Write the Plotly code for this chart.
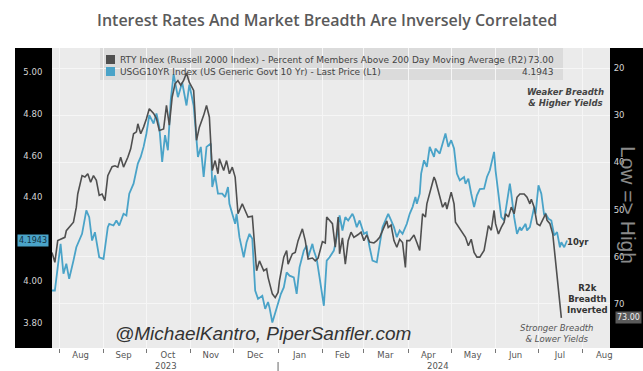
import plotly.graph_objects as go

# ---------------- data ----------------
yld_dates = [
    "2023-07-27", "2023-07-29",
    "2023-08-02", "2023-08-04", "2023-08-06", "2023-08-08", "2023-08-11", "2023-08-13", "2023-08-17", "2023-08-20", "2023-08-22", "2023-08-24", "2023-08-26", "2023-08-29",
    "2023-09-01", "2023-09-04", "2023-09-05", "2023-09-08", "2023-09-10", "2023-09-12", "2023-09-15", "2023-09-17", "2023-09-19", "2023-09-22", "2023-09-24", "2023-09-25", "2023-09-27", "2023-09-29",
    "2023-10-01", "2023-10-03", "2023-10-06", "2023-10-08", "2023-10-10", "2023-10-12", "2023-10-14", "2023-10-16", "2023-10-18", "2023-10-20", "2023-10-23", "2023-10-26", "2023-10-29", "2023-10-31",
    "2023-11-03", "2023-11-05", "2023-11-06", "2023-11-08", "2023-11-10", "2023-11-12", "2023-11-15", "2023-11-16", "2023-11-18", "2023-11-20", "2023-11-23", "2023-11-25", "2023-11-27", "2023-11-28",
    "2023-12-01", "2023-12-02", "2023-12-03", "2023-12-05", "2023-12-08", "2023-12-10", "2023-12-12", "2023-12-14", "2023-12-16", "2023-12-18", "2023-12-21", "2023-12-23", "2023-12-25", "2023-12-26", "2023-12-28", "2023-12-31",
    "2024-01-01", "2024-01-03", "2024-01-05", "2024-01-07", "2024-01-09", "2024-01-12", "2024-01-14", "2024-01-16", "2024-01-19", "2024-01-21", "2024-01-22", "2024-01-25", "2024-01-26", "2024-01-28", "2024-01-30",
    "2024-02-02", "2024-02-04", "2024-02-06", "2024-02-09", "2024-02-11", "2024-02-13", "2024-02-15", "2024-02-17", "2024-02-19", "2024-02-22", "2024-02-23", "2024-02-25", "2024-02-27",
    "2024-03-01", "2024-03-03", "2024-03-05", "2024-03-07", "2024-03-10", "2024-03-12", "2024-03-14", "2024-03-17", "2024-03-18", "2024-03-20", "2024-03-22", "2024-03-24", "2024-03-26", "2024-03-28", "2024-03-31",
    "2024-04-02", "2024-04-04", "2024-04-06", "2024-04-07", "2024-04-09", "2024-04-10", "2024-04-12", "2024-04-14", "2024-04-16", "2024-04-17", "2024-04-19", "2024-04-20", "2024-04-23", "2024-04-25", "2024-04-27", "2024-04-29",
    "2024-05-01", "2024-05-03", "2024-05-05", "2024-05-07", "2024-05-10", "2024-05-11", "2024-05-13", "2024-05-15", "2024-05-17", "2024-05-19", "2024-05-21", "2024-05-24", "2024-05-26", "2024-05-28", "2024-05-31",
    "2024-06-01", "2024-06-03", "2024-06-05", "2024-06-07", "2024-06-09", "2024-06-11", "2024-06-12", "2024-06-14", "2024-06-16", "2024-06-18", "2024-06-19", "2024-06-22", "2024-06-23", "2024-06-25", "2024-06-28", "2024-06-29",
    "2024-07-01", "2024-07-03", "2024-07-05", "2024-07-06", "2024-07-08", "2024-07-10", "2024-07-12", "2024-07-14", "2024-07-16", "2024-07-17", "2024-07-19", "2024-07-21",
]
yld_vals = [
    3.955, 3.955,
    4.178, 4.035, 4.083, 4.011, 4.098, 4.162, 4.226, 4.338, 4.306, 4.194, 4.234, 4.114,
    4.106, 4.258, 4.274, 4.266, 4.290, 4.266, 4.322, 4.314, 4.418, 4.466, 4.530, 4.562, 4.594, 4.642,
    4.706, 4.794, 4.754, 4.802, 4.738, 4.570, 4.698, 4.626, 4.866, 4.990, 4.880, 4.950, 4.840, 4.940,
    4.840, 4.700, 4.594, 4.642, 4.498, 4.642, 4.658, 4.450, 4.506, 4.418, 4.418, 4.402, 4.450, 4.370,
    4.306, 4.274, 4.322, 4.210, 4.114, 4.186, 4.226, 4.202, 3.955, 3.915, 3.930, 3.867, 3.900, 3.874, 3.802, 3.867,
    3.900, 3.939, 3.970, 4.042, 4.026, 4.018, 3.939, 4.066, 4.146, 4.170, 4.114, 4.178, 4.146, 4.106, 4.018,
    3.882, 4.098, 4.114, 4.146, 4.210, 4.314, 4.242, 4.306, 4.290, 4.322, 4.306, 4.258, 4.290,
    4.226, 4.234, 4.162, 4.098, 4.090, 4.170, 4.258, 4.306, 4.322, 4.290, 4.258, 4.210, 4.242, 4.226, 4.274,
    4.322, 4.354, 4.402, 4.370, 4.418, 4.514, 4.578, 4.546, 4.642, 4.626, 4.594, 4.634, 4.610, 4.658, 4.706, 4.642,
    4.674, 4.634, 4.514, 4.482, 4.498, 4.466, 4.490, 4.418, 4.354, 4.410, 4.440, 4.442, 4.498, 4.530, 4.618,
    4.530, 4.418, 4.306, 4.290, 4.386, 4.466, 4.418, 4.306, 4.226, 4.258, 4.242, 4.274, 4.242, 4.258, 4.354, 4.322,
    4.458, 4.418, 4.314, 4.322, 4.298, 4.290, 4.218, 4.234, 4.162, 4.186, 4.162, 4.1943,
]

rty_dates = [
    "2023-07-27", "2023-07-29", "2023-07-31",
    "2023-08-03", "2023-08-05", "2023-08-06", "2023-08-08", "2023-08-11", "2023-08-13", "2023-08-14", "2023-08-17", "2023-08-19", "2023-08-21", "2023-08-23", "2023-08-25", "2023-08-27", "2023-08-29", "2023-08-31",
    "2023-09-02", "2023-09-04", "2023-09-07", "2023-09-09", "2023-09-11", "2023-09-13", "2023-09-15", "2023-09-18", "2023-09-20", "2023-09-22", "2023-09-24", "2023-09-25", "2023-09-27", "2023-09-29",
    "2023-10-01", "2023-10-03", "2023-10-06", "2023-10-08", "2023-10-10", "2023-10-13", "2023-10-15", "2023-10-17", "2023-10-19", "2023-10-21", "2023-10-23", "2023-10-25", "2023-10-27", "2023-10-29", "2023-10-31",
    "2023-11-03", "2023-11-05", "2023-11-07", "2023-11-10", "2023-11-12", "2023-11-14", "2023-11-16", "2023-11-18", "2023-11-20", "2023-11-21", "2023-11-24", "2023-11-26", "2023-11-28", "2023-11-30",
    "2023-12-02", "2023-12-04", "2023-12-07", "2023-12-09", "2023-12-11", "2023-12-14", "2023-12-16", "2023-12-17", "2023-12-19", "2023-12-22", "2023-12-24", "2023-12-25", "2023-12-28", "2023-12-30",
    "2024-01-01", "2024-01-02", "2024-01-05", "2024-01-07", "2024-01-08", "2024-01-11", "2024-01-13", "2024-01-15", "2024-01-18", "2024-01-20", "2024-01-22", "2024-01-25", "2024-01-27", "2024-01-29",
    "2024-02-01", "2024-02-03", "2024-02-04", "2024-02-06", "2024-02-08", "2024-02-10", "2024-02-12", "2024-02-13", "2024-02-15", "2024-02-17", "2024-02-19", "2024-02-21", "2024-02-23", "2024-02-26", "2024-02-28",
    "2024-03-01", "2024-03-03", "2024-03-05", "2024-03-08", "2024-03-10", "2024-03-12", "2024-03-15", "2024-03-17", "2024-03-18", "2024-03-20", "2024-03-22", "2024-03-24", "2024-03-26", "2024-03-28", "2024-03-30", "2024-03-31",
    "2024-04-02", "2024-04-05", "2024-04-07", "2024-04-09", "2024-04-11", "2024-04-13", "2024-04-14", "2024-04-16", "2024-04-19", "2024-04-20", "2024-04-23", "2024-04-25", "2024-04-27", "2024-04-28",
    "2024-05-01", "2024-05-03", "2024-05-04", "2024-05-07", "2024-05-09", "2024-05-11", "2024-05-13", "2024-05-15", "2024-05-17", "2024-05-19", "2024-05-21", "2024-05-24", "2024-05-26", "2024-05-27", "2024-05-29", "2024-05-31",
    "2024-06-01", "2024-06-03", "2024-06-05", "2024-06-07", "2024-06-08", "2024-06-10", "2024-06-12", "2024-06-14", "2024-06-16", "2024-06-18", "2024-06-21", "2024-06-23", "2024-06-25", "2024-06-26", "2024-06-28", "2024-06-30",
    "2024-07-02", "2024-07-04", "2024-07-06", "2024-07-07", "2024-07-09", "2024-07-11", "2024-07-13", "2024-07-14", "2024-07-16", "2024-07-17",
]
rty_pct = [
    59.1, 61.2, 56.6,
    56.2, 55.9, 54.5, 53.8, 52.7, 49.5, 46.7, 42.8, 43.1, 42.4, 44.2, 42.8, 43.8, 47.0, 46.7,
    48.1, 42.8, 40.9, 40.7, 41.0, 38.9, 41.0, 38.9, 37.1, 33.9, 33.5, 31.8, 33.9, 32.5,
    30.7, 28.6, 29.6, 30.7, 33.2, 32.9, 27.9, 32.1, 26.1, 23.3, 22.6, 23.6, 22.6, 21.0, 23.0,
    24.7, 35.3, 32.5, 30.0, 27.9, 30.4, 41.7, 39.6, 42.4, 39.2, 41.7, 39.6, 42.4, 41.0,
    43.1, 50.9, 48.8, 50.2, 51.6, 51.4, 60.5, 63.0, 60.9, 63.0, 62.6, 64.4, 67.9, 68.7,
    67.6, 65.1, 60.1, 58.7, 61.6, 59.4, 59.1, 56.6, 54.1, 56.6, 60.5, 60.3, 60.9, 60.3,
    56.8, 57.1, 51.6, 52.3, 53.0, 58.0, 51.6, 59.4, 56.0, 61.6, 56.6, 54.8, 55.9, 55.3, 54.8,
    56.6, 55.4, 56.9, 57.1, 56.6, 55.9, 53.8, 52.4, 53.8, 53.3, 56.6, 58.0, 56.3, 57.0, 62.3, 56.6,
    56.6, 55.4, 57.0, 58.7, 50.9, 51.6, 48.8, 46.7, 43.1, 43.8, 47.4, 49.5, 48.5, 49.9,
    46.3, 48.8, 52.7, 54.1, 55.2, 55.9, 57.7, 56.3, 59.1, 60.1, 60.1, 58.7, 55.2, 53.4, 54.4, 50.2,
    53.0, 55.2, 53.8, 52.7, 50.9, 51.6, 49.5, 50.9, 47.4, 46.7, 46.7, 47.4, 48.8, 47.8, 49.5, 53.0,
    53.4, 52.3, 50.9, 52.3, 53.0, 55.2, 60.9, 65.1, 69.4, 73.0,
]
assert len(yld_dates) == len(yld_vals), (len(yld_dates), len(yld_vals))
assert len(rty_dates) == len(rty_pct), (len(rty_dates), len(rty_pct))

month_mid = ["2023-08-16", "2023-09-15", "2023-10-16", "2023-11-15", "2023-12-16",
             "2024-01-16", "2024-02-15", "2024-03-16", "2024-04-15", "2024-05-16",
             "2024-06-15", "2024-07-16", "2024-08-16"]
month_lbl = ["Aug", "Sep", "Oct", "Nov", "Dec", "Jan", "Feb", "Mar", "Apr", "May", "Jun", "Jul", "Aug"]
month_start = ["2023-08-01", "2023-09-01", "2023-10-01", "2023-11-01", "2023-12-01",
               "2024-01-01", "2024-02-01", "2024-03-01", "2024-04-01", "2024-05-01",
               "2024-06-01", "2024-07-01", "2024-08-01"]
left_ticks = [3.8, 4.0, 4.4, 4.6, 4.8, 5.0]
right_ticks = [20, 30, 40, 50, 60, 70]

# ---------------- layout helpers ----------------
W, H = 643, 371
L, R, T, B = 52, 33, 48, 23
PW, PH = W - L - R, H - T - B


def px(x):
    return (x - L) / PW


def py(y):
    return (H - B - y) / PH


GREY = "#4f4f4f"
BLUE = "#4aa3c8"

fig = go.Figure()
fig.add_trace(go.Scatter(x=rty_dates, y=rty_pct, yaxis="y2", mode="lines",
                         line=dict(color=GREY, width=1.6), showlegend=False, hoverinfo="skip"))
fig.add_trace(go.Scatter(x=yld_dates, y=yld_vals, yaxis="y", mode="lines",
                         line=dict(color=BLUE, width=1.8), showlegend=False, hoverinfo="skip"))

shapes = [
    dict(type="rect", xref="paper", yref="paper", x0=0, x1=1, y0=0, y1=1,
         fillcolor="#ebebeb", line=dict(width=0), layer="below"),
    dict(type="rect", xref="paper", yref="paper", x0=px(100), x1=px(563), y0=py(80), y1=1,
         fillcolor="rgba(205,205,205,0.55)", line=dict(width=0), layer="below"),
    dict(type="rect", xref="paper", yref="paper", x0=px(15), x1=0, y0=0, y1=1,
         fillcolor="black", line=dict(width=0), layer="below"),
    dict(type="rect", xref="paper", yref="paper", x0=1, x1=px(643), y0=0, y1=1,
         fillcolor="black", line=dict(width=0), layer="below"),
    # legend swatches
    dict(type="rect", xref="paper", yref="paper", x0=px(106), x1=px(115), y0=py(64), y1=py(55),
         fillcolor=GREY, line=dict(width=0)),
    dict(type="rect", xref="paper", yref="paper", x0=px(106), x1=px(115), y0=py(76), y1=py(67),
         fillcolor=BLUE, line=dict(width=0)),
    # year separator
    dict(type="line", xref="x", yref="paper", x0="2024-01-01", x1="2024-01-01",
         y0=py(362), y1=py(371), line=dict(color="#666", width=1)),
]

LFONT = "DejaVu Sans"
ann = [
    dict(text="Interest Rates And Market Breadth Are Inversely Correlated", x=px(327), y=py(20),
         font=dict(family="Open Sans", size=16, color="#5a5a5a", weight=600)),
    dict(text="RTY Index (Russell 2000 Index) - Percent of Members Above 200 Day Moving Average (R2)",
         x=px(118), y=py(60), xanchor="left", font=dict(family=LFONT, size=9, color="#444")),
    dict(text="73.00", x=px(556), y=py(60), xanchor="right", font=dict(family=LFONT, size=9, color="#444")),
    dict(text="USGG10YR Index (US Generic Govt 10 Yr) - Last Price (L1)",
         x=px(118), y=py(72), xanchor="left", font=dict(family=LFONT, size=9, color="#444")),
    dict(text="4.1943", x=px(556), y=py(72), xanchor="right", font=dict(family=LFONT, size=9, color="#444")),
    dict(text="@MichaelKantro, PiperSanfler.com", x=px(113), y=py(333), xanchor="left",
         font=dict(family="Liberation Sans", size=19, color="#333", style="italic")),
    dict(text="Weaker Breadth<br>& Higher Yields", x=px(565), y=py(98),
         font=dict(family=LFONT, size=8.5, color="#444", style="italic", weight="bold")),
    dict(text="10yr", x=px(578), y=py(242), font=dict(family=LFONT, size=8.5, color="#333", weight="bold")),
    dict(text="R2k<br>Breadth<br>Inverted", x=px(587), y=py(299),
         font=dict(family=LFONT, size=8.5, color="#333", weight="bold")),
    dict(text="Stronger Breadth<br>& Lower Yields", x=px(557), y=py(333),
         font=dict(family=LFONT, size=8.5, color="#555", style="italic")),
    dict(text="Low => High", x=px(629), y=py(205), textangle=90,
         font=dict(family="Liberation Sans", size=21, color="#8a8a8a")),
    dict(text="2023", x="2023-10-15", xref="x", y=py(366),
         font=dict(family=LFONT, size=8.5, color="#555")),
    dict(text="2024", x="2024-04-22", xref="x", y=py(366),
         font=dict(family=LFONT, size=8.5, color="#555")),
    dict(text="4.1943", x=px(33), y=4.1943, yref="y", bgcolor=BLUE, borderpad=1,
         font=dict(family=LFONT, size=8, color="#12303e")),
    dict(text="73.00", x=px(628), y=73, yref="y2", bgcolor="#5a5a5a", borderpad=1,
         font=dict(family=LFONT, size=8, color="#eeeeee")),
]
for a in ann:
    a.setdefault("xref", "paper")
    a.setdefault("yref", "paper")
    a.setdefault("showarrow", False)
    a.setdefault("xanchor", "center")
    a.setdefault("yanchor", "middle")

fig.update_layout(
    width=W, height=H,
    margin=dict(l=L, r=R, t=T, b=B, pad=0),
    paper_bgcolor="white",
    plot_bgcolor="rgba(0,0,0,0)",
    showlegend=False,
    shapes=shapes,
    annotations=ann,
    xaxis=dict(type="date", range=["2023-07-27", "2024-08-20"],
               tickmode="array", tickvals=month_mid, ticktext=month_lbl,
               ticks="", showgrid=False, zeroline=False, showline=False,
               tickfont=dict(family=LFONT, size=8.5, color="#555"),
               minor=dict(tickmode="array", tickvals=month_start, ticks="outside", ticklen=4,
                          tickcolor="#777", showgrid=True, gridcolor="#f6f6f6", gridwidth=1)),
    yaxis=dict(range=[3.68, 5.115], tickmode="array", tickvals=left_ticks, tickformat=".2f",
               ticks="outside", ticklen=7, tickcolor="rgba(0,0,0,0)", showgrid=False, zeroline=False,
               tickfont=dict(family=LFONT, size=8.5, color="#d4d4d4")),
    yaxis2=dict(range=[79.4, 15.7], overlaying="y", side="right", tickmode="array", tickvals=right_ticks,
                ticks="outside", ticklen=1, tickcolor="rgba(0,0,0,0)", showgrid=True,
                gridcolor="#f6f6f6", gridwidth=1, zeroline=False,
                tickfont=dict(family=LFONT, size=8.5, color="#d4d4d4")),
)

fig.write_html("out.html")
